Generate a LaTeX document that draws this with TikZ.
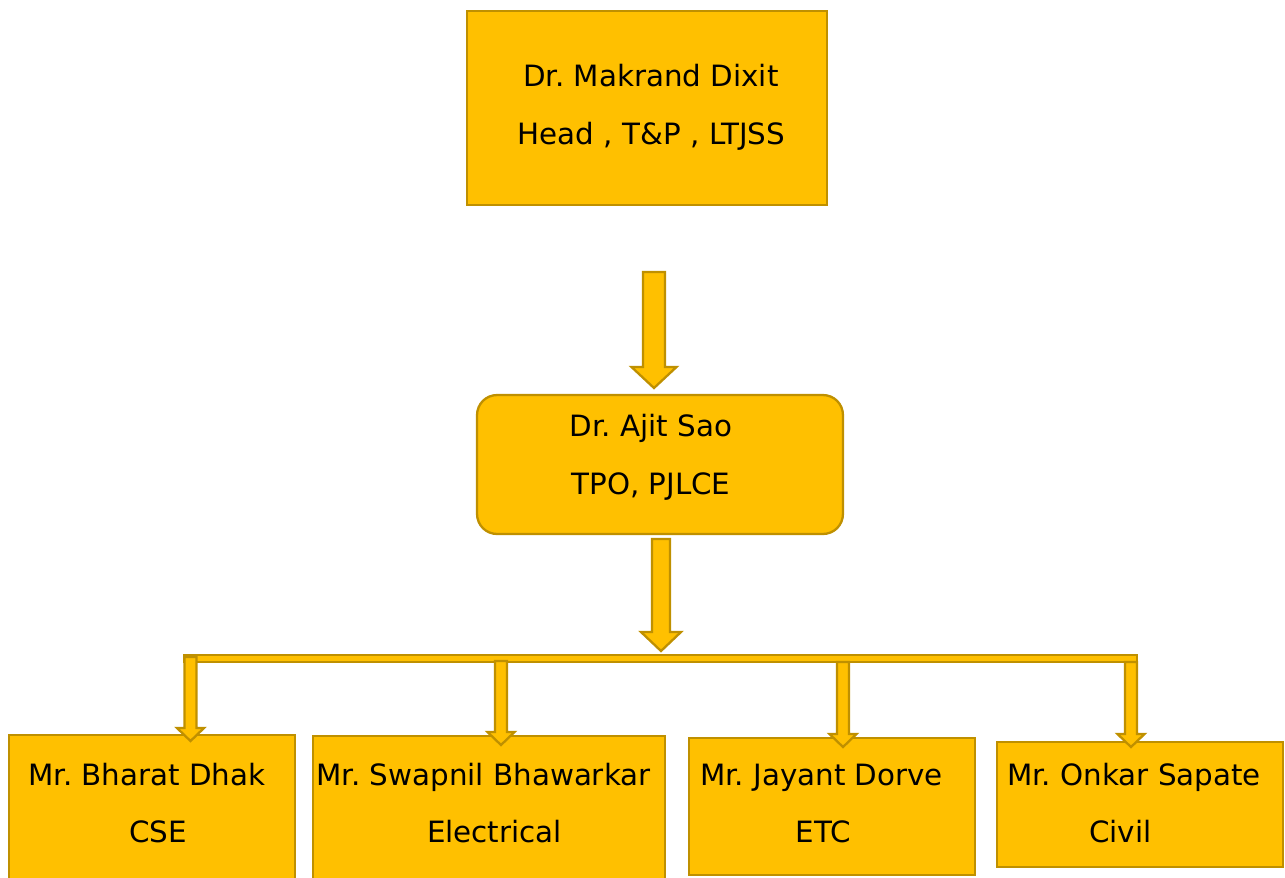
\documentclass[tikz,border=0pt]{standalone}
\usepackage{fontspec}
\setmainfont{DejaVu Sans}
\usetikzlibrary{calc}
\frenchspacing
\definecolor{gold}{HTML}{FFC000}
\definecolor{goldline}{HTML}{BF9000}
\tikzset{
	box/.style={draw=goldline, fill=gold, line width=1.3pt, inner sep=0pt},
	txt/.style={font=\fontsize{16.7}{20}\selectfont, inner sep=0pt, anchor=base},
}
% block arrow pointing down: start, tip, shaft width, head width, head length
\newcommand{\blockarrow}[5]{%
	\draw[box, line join=miter] ($(#1)+(-#3/2,0)$) -- ($(#2)+(-#3/2,-#5)$) -- ($(#2)+(-#4/2,-#5)$) -- (#2)
		-- ($(#2)+(#4/2,-#5)$) -- ($(#2)+(#3/2,-#5)$) -- ($(#1)+(#3/2,0)$) -- cycle;}

\begin{document}
\begin{tikzpicture}[x=0.02cm, y=-0.02cm]
		\useasboundingbox (0,0) rectangle (1285,877);

		% boxes
		\node[box, minimum width=7.2cm, minimum height=3.88cm] (head) at (647,108) {};
		\node[box, rounded corners=0.4cm, minimum width=7.32cm, minimum height=2.78cm] (tpo) at (660,464.5) {};
		\node[box, minimum width=5.72cm, minimum height=3.1cm] (cse) at (152,812.5) {};
		\node[box, minimum width=7.04cm, minimum height=3.08cm] (elec) at (489,813) {};
		\node[box, minimum width=5.72cm, minimum height=2.74cm] (etc) at (832,806.5) {};
		\node[box, minimum width=5.72cm, minimum height=2.5cm] (civil) at (1140,804.5) {};

		% texts
		\node[txt] (head1) at (651,86) {Dr. Makrand Dixit};
		\node[txt] (head2) at (651.5,144) {Head , T\&P , LTJSS};
		\node[txt] (tpo1) at (651,436) {Dr. Ajit Sao};
		\node[txt] (tpo2) at (651,494) {TPO, PJLCE};
		\node[txt] (cse1) at (147,785) {Mr. Bharat Dhak};
		\node[txt] (cse2) at (158,842) {CSE};
		\node[txt] (elec1) at (483.5,785) {Mr. Swapnil Bhawarkar};
		\node[txt] (elec2) at (494.5,842) {Electrical};
		\node[txt] (etc1) at (821.5,785) {Mr. Jayant Dorve};
		\node[txt] (etc2) at (823.5,842) {ETC};
		\node[txt] (civil1) at (1134,785) {Mr. Onkar Sapate};
		\node[txt] (civil2) at (1120.5,842) {Civil};

		% arrow ends
		\coordinate (a1s) at (654,272);
		\coordinate (a1e) at (654,388);
		\coordinate (a2s) at (661,539);
		\coordinate (a2e) at (661,651);
		\coordinate (barl) at (184,655);
		\coordinate (barr) at (1137,662);

		\blockarrow{a1s}{a1e}{22}{45}{21}
		\blockarrow{a2s}{a2e}{18}{40}{19}
		\draw[box] (barl) rectangle (barr);

		\coordinate (b1s) at (190.5,657);
		\coordinate (b1e) at (190.5,741);
		\coordinate (b2s) at (501,661);
		\coordinate (b2e) at (501,745);
		\coordinate (b3s) at (843,662);
		\coordinate (b3e) at (843,747);
		\coordinate (b4s) at (1131,662);
		\coordinate (b4e) at (1131,747);
		\foreach \n in {1,...,4}{
			\blockarrow{b\n s}{b\n e}{12}{27}{13}
		}

	\end{tikzpicture}
\end{document}
